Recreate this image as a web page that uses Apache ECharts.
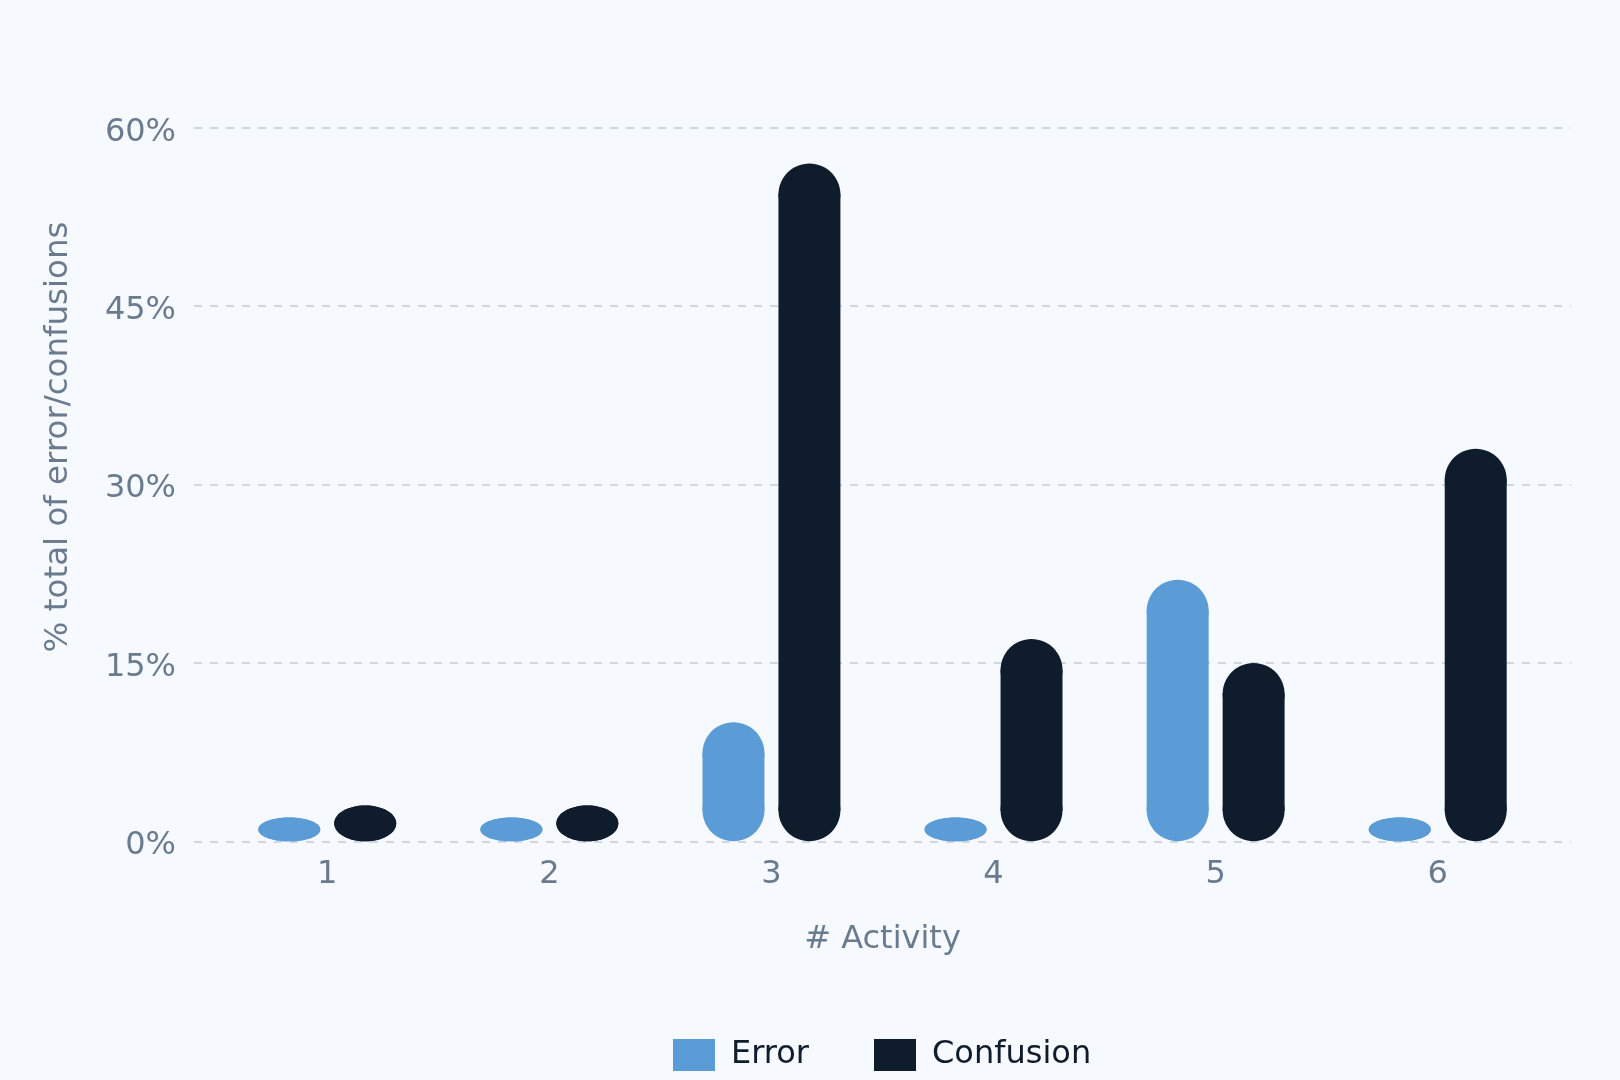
<!DOCTYPE html>
<html lang="en">
<head>
    <meta charset="UTF-8">
    <title>Error vs Confusion per activity</title>
    <style>
        * { margin: 0; padding: 0; }
        html, body { width: 1620px; height: 1080px; background: #f6faff; }
        #chart { width: 1620px; height: 1080px; }
    </style>
</head>
<body>
    <div id="chart"></div>
    <script src="https://cdn.jsdelivr.net/npm/echarts@6/dist/echarts.min.js"></script>
    <script>
        var activities = [1, 2, 3, 4, 5, 6];
        var errorPct = [2, 2, 10, 2, 22, 2];
        var confusionPct = [3, 3, 57, 17, 15, 33];

        var textGray = '#6b7b8e';
        var font = 'DejaVu Sans';

        // bar with elliptical caps, like an svg rect with rx = w/2 and ry clamped to h/2
        function pill(shift, color) {
            return function (params, api) {
                var x = api.value(0);
                var base = api.coord([x, 0]);
                var top = api.coord([x, api.value(1)]);
                var band = api.size([1, 0])[0];
                var w = band * 0.279;
                var cx = base[0] + band * shift;
                var h = base[1] - top[1];
                var rx = w / 2;
                var ry = Math.min(w / 2, h / 2);
                var style = { fill: color };
                var kids = [
                    { type: 'ellipse', shape: { cx: cx, cy: top[1] + ry, rx: rx, ry: ry }, style: style },
                    { type: 'ellipse', shape: { cx: cx, cy: base[1] - ry, rx: rx, ry: ry }, style: style }
                ];
                if (h - 2 * ry > 0) {
                    kids.push({ type: 'rect', shape: { x: cx - rx, y: top[1] + ry - 0.5, width: w, height: h - 2 * ry + 1 }, style: style });
                }
                return { type: 'group', children: kids };
            };
        }

        var chart = echarts.init(document.getElementById('chart'));
        chart.setOption({
            backgroundColor: '#f6faff',
            animation: false,
            textStyle: { fontFamily: font },
            grid: { left: 194, right: 49, top: 127.7, bottom: 238.7 },
            legend: {
                data: ['Error', 'Confusion'],
                left: 668,
                top: 1034,
                icon: 'rect',
                itemWidth: 42,
                itemHeight: 32,
                itemGap: 65,
                textStyle: { fontSize: 32, color: '#0f1c2b', fontFamily: font, padding: [0, 0, 0, 11] }
            },
            xAxis: {
                type: 'value',
                min: 0.4,
                max: 6.6,
                name: '# Activity',
                nameLocation: 'middle',
                nameGap: 82,
                nameTextStyle: { fontSize: 32, color: textGray, fontFamily: font },
                axisLine: { show: false },
                axisTick: { show: false },
                splitLine: { show: false },
                axisLabel: {
                    customValues: activities,
                    fontSize: 32,
                    color: textGray,
                    margin: 17,
                    formatter: function (v) { return Number.isInteger(v) ? String(v) : ''; }
                }
            },
            yAxis: {
                type: 'value',
                min: 0,
                max: 60,
                interval: 15,
                name: '% total of error/confusions',
                nameLocation: 'middle',
                nameGap: 119,
                nameTextStyle: { fontSize: 32.5, color: textGray, fontFamily: font, padding: [0, 0, 0, 95] },
                axisLine: { show: false },
                axisTick: { show: false },
                axisLabel: { fontSize: 32, color: textGray, margin: 18, verticalAlign: 'top', lineHeight: 9, formatter: '{value}%' },
                splitLine: { lineStyle: { color: '#cdd8e3', width: 2, type: [8, 8] } }
            },
            series: [
                {
                    name: 'Error',
                    type: 'custom',
                    itemStyle: { color: '#5b9bd6' },
                    renderItem: pill(-0.171, '#5b9bd6'),
                    encode: { x: 0, y: 1 },
                    data: activities.map(function (a, i) { return [a, errorPct[i]]; })
                },
                {
                    name: 'Confusion',
                    type: 'custom',
                    itemStyle: { color: '#0f1c2b' },
                    renderItem: pill(0.171, '#0f1c2b'),
                    encode: { x: 0, y: 1 },
                    data: activities.map(function (a, i) { return [a, confusionPct[i]]; })
                }
            ]
        });
    </script>
</body>
</html>
